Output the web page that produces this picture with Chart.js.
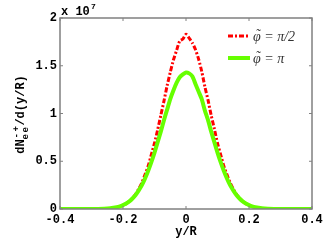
<!DOCTYPE html>
<html><head><meta charset="utf-8">
<script src="https://cdn.jsdelivr.net/npm/chart.js@4.4.0/dist/chart.umd.min.js"></script>
<style>html,body{margin:0;padding:0;background:#fff}#wrap{width:332px;height:250px;position:relative}</style>
</head><body><div id="wrap"><canvas id="c" width="332" height="250"></canvas></div>
<script>
const xs = [-0.40,-0.30,-0.26,-0.24,-0.22,-0.21,-0.20,-0.19,-0.18,-0.17,-0.16,-0.15,-0.14,-0.13,-0.12,-0.11,-0.10,-0.09,-0.08,-0.07,-0.06,-0.05,-0.04,-0.03,-0.02,-0.01,0.00,0.01,0.02,0.03,0.04,0.05,0.06,0.07,0.08,0.09,0.10,0.11,0.12,0.13,0.14,0.15,0.16,0.17,0.18,0.19,0.20,0.21,0.22,0.24,0.26,0.30,0.40];
const redVals = [0,0,0.002,0.007,0.017,0.026,0.038,0.056,0.080,0.112,0.154,0.21,0.275,0.36,0.45,0.57,0.69,0.83,0.98,1.13,1.29,1.43,1.56,1.66,1.76,1.78,1.83,1.79,1.74,1.67,1.57,1.44,1.28,1.14,0.98,0.84,0.69,0.57,0.45,0.36,0.275,0.21,0.154,0.112,0.080,0.056,0.038,0.026,0.017,0.007,0.002,0,0];
const greenVals = [0,0,0.003,0.008,0.019,0.028,0.041,0.058,0.080,0.11,0.147,0.195,0.25,0.32,0.40,0.49,0.59,0.70,0.81,0.93,1.04,1.15,1.24,1.32,1.38,1.41,1.43,1.42,1.39,1.31,1.23,1.15,1.03,0.93,0.81,0.70,0.59,0.49,0.40,0.32,0.25,0.195,0.147,0.11,0.080,0.058,0.041,0.028,0.019,0.008,0.003,0,0];
const xTicks = [-0.4,-0.2,0,0.2,0.4];
const xTickLabels = ['-0.4','-0.2','0','0.2','0.4'];
const yTicks = [0,0.5,1,1.5,2];
const yTickLabels = ['0','0.5','1','1.5','2'];
const legendSymbol = '\u03C6';
const legendRest = [' = \u03C0/2',' = \u03C0'];

const RED = '#ff0000', GREEN = '#66ff00', AX = '#808080';
const TICKFONT = 'bold 12px "Liberation Mono", "DejaVu Sans Mono", monospace';

const deco = {
  id:'deco',
  afterDatasetsDraw(chart){
    const ctx = chart.ctx, a = chart.chartArea;
    const xs_ = chart.scales.x, ys_ = chart.scales.y;
    ctx.save();
    ctx.strokeStyle = AX; ctx.lineWidth = 1.5;
    ctx.strokeRect(a.left, a.top, a.right-a.left, a.bottom-a.top);
    ctx.lineWidth = 1;
    xTicks.forEach(v=>{const p=xs_.getPixelForValue(v);
      ctx.beginPath();ctx.moveTo(p,a.bottom);ctx.lineTo(p,a.bottom-3);ctx.moveTo(p,a.top);ctx.lineTo(p,a.top+3);ctx.stroke();});
    yTicks.forEach(v=>{const p=ys_.getPixelForValue(v);
      ctx.beginPath();ctx.moveTo(a.left,p);ctx.lineTo(a.left+3,p);ctx.moveTo(a.right,p);ctx.lineTo(a.right-3,p);ctx.stroke();});
    ctx.fillStyle = '#000'; ctx.font = TICKFONT;
    ctx.textAlign='center'; ctx.textBaseline='middle';
    xTicks.forEach((v,i)=>ctx.fillText(xTickLabels[i], xs_.getPixelForValue(v), a.bottom+11));
    ctx.textAlign='right';
    yTicks.forEach((v,i)=>ctx.fillText(yTickLabels[i], a.left-3, ys_.getPixelForValue(v)));
    ctx.textAlign='left';
    ctx.fillText('x 10', a.left+1, a.top-6);
    ctx.font = 'bold 8px "Liberation Mono", monospace';
    ctx.fillText('7', a.left+31, a.top-11);
    ctx.font = TICKFONT; ctx.textAlign='center';
    ctx.fillText('y/R', (a.left+a.right)/2, a.bottom+23);
    ctx.save();
    ctx.translate(21, (a.top+a.bottom)/2 + 1);
    ctx.rotate(-Math.PI/2);
    const small = 'bold 9px "Liberation Mono", monospace';
    const parts = [
      {t:'dN', f:TICKFONT, dy:0},
      {t:'e', f:small, dy:5, sup:'-'},
      {t:'e', f:small, dy:5, sup:'+'},
      {t:'/d(y/R)', f:TICKFONT, dy:0}
    ];
    let total=0;
    parts.forEach(p=>{ctx.font=p.f; p.w=ctx.measureText(p.t).width+(p.sup?1.5:0); total+=p.w;});
    let x=-total/2; ctx.textAlign='left';
    parts.forEach(p=>{
      ctx.font=p.f; ctx.fillText(p.t, x, p.dy);
      if(p.sup){ctx.fillText(p.sup, x+1, -4);}
      x+=p.w;
    });
    ctx.restore();
    // legend
    const lx = 228, lw = 22;
    const rows = [{c:RED, dash:[5,2,2,2], w:3, y:a.top+18},{c:GREEN, dash:[], w:4, y:a.top+40}];
    const LF = 'italic 14px "Liberation Serif", "DejaVu Serif", serif';
    rows.forEach((r,i)=>{
      ctx.strokeStyle=r.c; ctx.lineWidth=r.w; ctx.setLineDash(r.dash);
      ctx.beginPath(); ctx.moveTo(lx, r.y); ctx.lineTo(lx+lw, r.y); ctx.stroke();
      ctx.setLineDash([]);
      ctx.fillStyle='#333'; ctx.font=LF;
      ctx.textAlign='left'; ctx.textBaseline='middle';
      const tx = lx+lw+3;
      ctx.fillText(legendSymbol, tx, r.y+1);
      const w = ctx.measureText(legendSymbol).width;
      ctx.textAlign='center'; ctx.textBaseline='alphabetic';
      ctx.fillText('\u02DC', tx+w/2+1, r.y+3);
      ctx.textAlign='left'; ctx.textBaseline='middle';
      ctx.fillText(legendRest[i], tx+w, r.y+1);
    });
    ctx.restore();
  }
};

new Chart(document.getElementById('c'), {
  type:'line',
  data:{datasets:[
    {label:'pi', data:xs.map((x,i)=>({x:x,y:greenVals[i]})), borderColor:GREEN, borderWidth:4, pointRadius:0, tension:0.2, fill:false},
    {label:'pi/2', data:xs.map((x,i)=>({x:x,y:redVals[i]})), borderColor:RED, borderWidth:3, borderDash:[5,2,2,2], pointRadius:0, tension:0.2, fill:false}
  ]},
  options:{
    responsive:false, animation:false, devicePixelRatio:1,
    layout:{padding:{left:0,right:20,top:18,bottom:0}},
    plugins:{legend:{display:false}, tooltip:{enabled:false}},
    scales:{
      x:{type:'linear', min:-0.4, max:0.4, grid:{display:false}, border:{display:false},
         ticks:{display:false}, afterFit(s){s.height=41;}},
      y:{type:'linear', min:0, max:2, grid:{display:false}, border:{display:false},
         ticks:{display:false}, afterFit(s){s.width=60;}}
    }
  },
  plugins:[deco]
});
</script></body></html>
